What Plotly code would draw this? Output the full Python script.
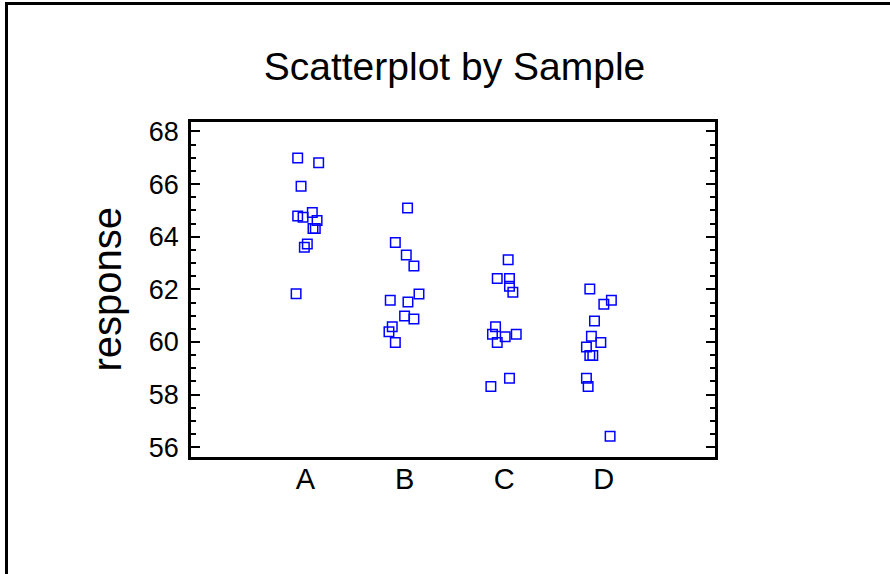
import plotly.graph_objects as go

# ---- data ----
categories = ["A", "B", "C", "D"]
cat_pos = [1, 2, 3, 4]

resp_A = [66.99, 66.81, 65.92, 64.79, 64.74, 64.92, 64.62, 64.31, 64.31, 63.72, 63.60, 61.83]
jit_A = [-0.077, 0.134, -0.043, -0.077, -0.023, 0.070, 0.118, 0.077, 0.100, 0.020, -0.010, -0.093]

resp_B = [65.09, 63.78, 63.31, 62.89, 61.82, 61.59, 61.52, 60.99, 60.87, 60.58, 60.39, 59.98]
jit_B = [0.028, -0.095, 0.015, 0.092, 0.143, -0.146, 0.032, -0.002, 0.092, -0.126, -0.159, -0.095]

resp_C = [63.13, 62.41, 62.41, 62.12, 61.89, 60.58, 60.29, 60.20, 60.29, 59.98, 58.62, 58.31]
jit_C = [0.040, -0.070, 0.053, 0.053, 0.087, -0.087, -0.118, 0.010, 0.121, -0.070, 0.053, -0.134]

resp_D = [62.01, 61.59, 61.43, 60.80, 60.22, 59.98, 59.81, 59.49, 59.49, 58.62, 58.31, 56.42]
jit_D = [-0.139, 0.078, 0.002, -0.092, -0.123, -0.028, -0.173, -0.139, -0.109, -0.173, -0.156, 0.065]

y_ticks = [56, 58, 60, 62, 64, 66, 68]

groups = [(resp_A, jit_A), (resp_B, jit_B), (resp_C, jit_C), (resp_D, jit_D)]

xs, ys = [], []
for pos, (vals, jit) in zip(cat_pos, groups):
    for v, j in zip(vals, jit):
        xs.append(pos + j)
        ys.append(v)

FONT = "Liberation Sans, Arial, sans-serif"

fig = go.Figure()
fig.add_trace(go.Scatter(
    x=xs, y=ys, mode="markers",
    marker=dict(symbol="square-open", size=9.5, color="#0000FF",
                line=dict(color="#0000FF", width=1.5)),
    showlegend=False, hoverinfo="x+y",
))

W, H = 890, 574
L, R, T, B = 191, 175, 122, 117

fig.update_layout(
    width=W, height=H,
    margin=dict(l=L, r=R, t=T, b=B),
    paper_bgcolor="white", plot_bgcolor="white",
    font=dict(family=FONT, color="black"),
    title=dict(text="Scatterplot by Sample", x=(262 + 647) / 2 / W, xanchor="center",
               y=1 - 66.5 / H, yanchor="middle",
               font=dict(size=39, family=FONT, color="black")),
    xaxis=dict(
        range=[-0.15, 5.12], tickmode="array", tickvals=cat_pos, ticktext=categories,
        showgrid=False, zeroline=False, showline=True, linecolor="black", linewidth=2.5,
        mirror=True, ticks="", tickfont=dict(size=29, family=FONT, color="black"),
        ticklabelstandoff=-6,
    ),
    yaxis=dict(
        range=[55.63, 68.36], tickmode="array", tickvals=y_ticks,
        showgrid=False, zeroline=False, showline=True, linecolor="black", linewidth=2.5,
        mirror="ticks", ticks="inside", ticklen=9, tickwidth=2, tickcolor="black",
        tickfont=dict(size=27, family=FONT, color="black"), ticklabelstandoff=4,
        minor=dict(dtick=0.5, tick0=56, ticks="inside", ticklen=5, tickwidth=2,
                   tickcolor="black", showgrid=False),
    ),
)

pw = W - L - R
ph = H - T - B
def px_to_paper_x(px):
    return (px - L) / pw
def px_to_paper_y(py):
    return (H - B - py) / ph

fig.add_annotation(
    text="response", textangle=-90, showarrow=False,
    xref="paper", yref="paper", x=px_to_paper_x(106), y=0.5,
    xanchor="center", yanchor="middle",
    font=dict(size=40, family=FONT, color="black"),
)

# outer frame (top and left edges visible)
fig.add_shape(type="line", xref="paper", yref="paper",
              x0=px_to_paper_x(5), x1=px_to_paper_x(W),
              y0=px_to_paper_y(3.5), y1=px_to_paper_y(3.5),
              line=dict(color="black", width=3), layer="below")
fig.add_shape(type="line", xref="paper", yref="paper",
              x0=px_to_paper_x(6.5), x1=px_to_paper_x(6.5),
              y0=px_to_paper_y(2), y1=px_to_paper_y(H),
              line=dict(color="black", width=3), layer="below")

fig.write_html("out.html", config={"displayModeBar": False},
               post_script="document.body.style.margin='0';document.body.style.overflow='hidden';")
